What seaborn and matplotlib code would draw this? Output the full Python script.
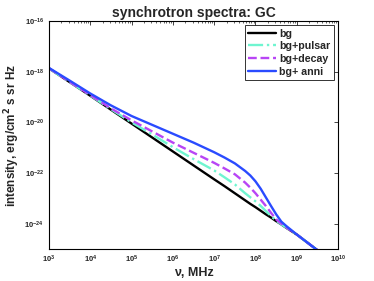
import numpy as np
import pandas as pd
import matplotlib
matplotlib.use("Agg")
import matplotlib.pyplot as plt
import seaborn as sns

# log10 of frequency (MHz) and log10 of intensity
log_nu = [3, 3.5, 4, 4.5, 5, 5.5, 6, 6.5, 7, 7.25, 7.5, 7.75, 7.875, 8, 8.125,
          8.25, 8.375, 8.5, 8.625, 8.75, 9, 9.5]
log_bg = [-17.87, -18.41, -18.95, -19.50, -20.05, -20.60, -21.15, -21.70, -22.25,
          -22.52, -22.80, -23.08, -23.22, -23.35, -23.49, -23.63, -23.76, -23.90,
          -24.03, -24.17, -24.43, -25.05]
log_pulsar = [-17.87, -18.41, -18.94, -19.48, -20.00, -20.48, -20.98, -21.45, -21.90,
              -22.17, -22.45, -22.80, -22.96, -23.12, -23.30, -23.50, -23.70, -23.88,
              -24.03, -24.16, -24.43, -25.05]
log_decay = [-17.86, -18.40, -18.92, -19.45, -19.92, -20.36, -20.80, -21.20, -21.60,
             -21.82, -22.05, -22.38, -22.58, -22.80, -23.05, -23.30, -23.57, -23.83,
             -24.00, -24.15, -24.43, -25.05]
log_anni = [-17.85, -18.35, -18.86, -19.33, -19.75, -20.10, -20.45, -20.80, -21.18,
            -21.39, -21.62, -21.92, -22.10, -22.33, -22.62, -22.96, -23.30, -23.63,
            -23.92, -24.10, -24.43, -25.05]

labels = ["bg", "bg+pulsar", "bg+decay", "bg+ anni"]
series = [log_bg, log_pulsar, log_decay, log_anni]
colors = ["black", "#6ff5d0", "#b845f5", "#2a4bff"]
dashes = ["-", "-.", "--", "-"]

sns.set_style("white")
plt.rcParams["font.family"] = ["Liberation Sans", "DejaVu Sans"]
plt.rcParams["font.weight"] = "bold"

fig = plt.figure(figsize=(3.74, 2.81), dpi=100)
ax = fig.add_axes([0.131, 0.114, 0.773, 0.811])

nu = 10 ** np.array(log_nu)
for lab, s, c, ls in zip(labels, series, colors, dashes):
    df = pd.DataFrame({"nu": nu, "I": 10 ** np.array(s)})
    sns.lineplot(data=df, x="nu", y="I", ax=ax, color=c, linestyle=ls,
                 linewidth=1.7, label=lab)

ax.set_xscale("log")
ax.set_yscale("log")
ax.set_xlim(1e3, 1e10)
ax.set_ylim(1e-25, 1e-16)
ax.set_xticks([10.0 ** k for k in range(3, 11)])
ax.set_yticks([10.0 ** k for k in range(-24, -15, 2)])
ax.yaxis.set_minor_locator(matplotlib.ticker.NullLocator())
ax.tick_params(which="both", direction="in", top=True, right=True, labelsize=5.5)
ax.tick_params(which="major", length=3, width=0.6)
ax.tick_params(which="minor", length=1.5, width=0.5)
for sp in ax.spines.values():
    sp.set_linewidth(0.8)
    sp.set_color("black")

ax.set_title("synchrotron spectra: GC", fontsize=10, fontweight="bold", pad=3)
ax.set_xlabel("ν, MHz", fontsize=9, fontweight="bold", labelpad=1)
ax.set_ylabel("intensity, erg/cm$^2$ s sr Hz", fontsize=8.5, fontweight="bold", labelpad=2)

leg = ax.legend(loc="upper right", fontsize=7.7, frameon=True, fancybox=False,
                borderpad=0.3, labelspacing=0.25, handlelength=2.6, handletextpad=0.3,
                borderaxespad=0.4)
leg.get_frame().set_edgecolor("black")
leg.get_frame().set_linewidth(0.7)
for t in leg.get_texts():
    t.set_fontweight("bold")

fig.savefig("out.png", dpi=100)
